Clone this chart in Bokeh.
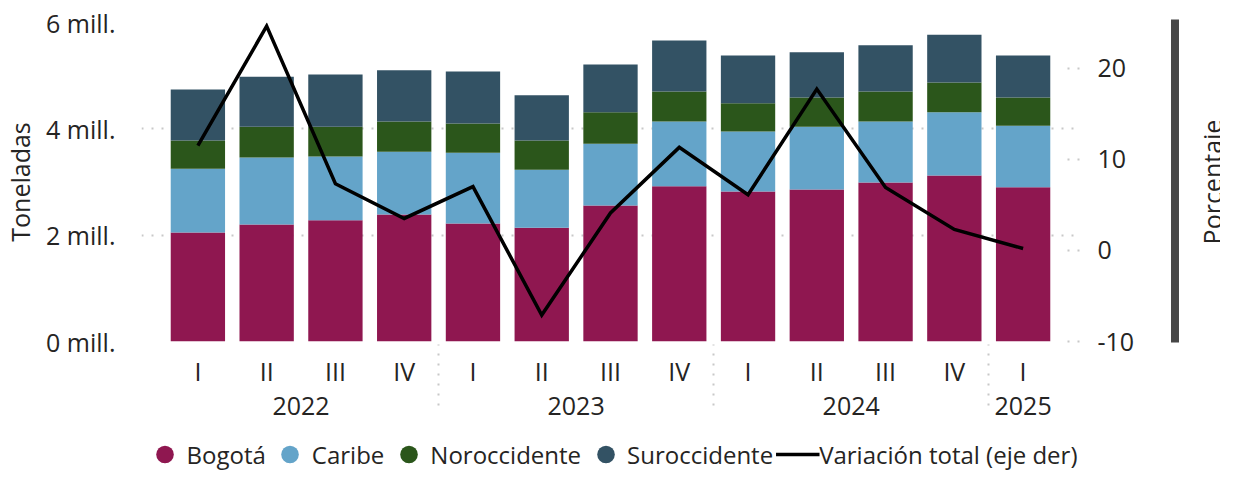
from bokeh.plotting import figure
from bokeh.models import (ColumnDataSource, FactorRange, Range1d, LinearAxis, FixedTicker,
                          CustomJSTickFormatter, Legend, LegendItem)
from bokeh.layouts import column
from bokeh.core.properties import value
from bokeh.embed import file_html
from bokeh.resources import INLINE

# ---------------- data (millones de toneladas / porcentaje) ----------------
anios = ["2022", "2022", "2022", "2022", "2023", "2023", "2023", "2023",
         "2024", "2024", "2024", "2024", "2025"]
trimestres = ["I", "II", "III", "IV", "I", "II", "III", "IV", "I", "II", "III", "IV", "I"]
bogota = [2.05, 2.20, 2.28, 2.39, 2.22, 2.14, 2.56, 2.92, 2.82, 2.86, 2.99, 3.12, 2.90]
caribe = [1.20, 1.26, 1.20, 1.18, 1.33, 1.09, 1.16, 1.22, 1.13, 1.18, 1.15, 1.19, 1.16]
noroccidente = [0.53, 0.58, 0.56, 0.57, 0.55, 0.55, 0.59, 0.56, 0.53, 0.55, 0.56, 0.56, 0.53]
suroccidente = [0.96, 0.94, 0.98, 0.96, 0.98, 0.85, 0.90, 0.96, 0.90, 0.85, 0.87, 0.90, 0.79]
variacion = [11.5, 24.6, 7.3, 3.5, 7.0, -7.1, 4.1, 11.3, 6.1, 17.7, 6.9, 2.3, 0.2]

series = ["bogota", "caribe", "noroccidente", "suroccidente"]
nombres = ["Bogotá", "Caribe", "Noroccidente", "Suroccidente"]
colores = ["#8F1750", "#64A4C9", "#2B561B", "#335264"]
left_ticks = [0, 2, 4, 6]
right_ticks = [-10, 0, 10, 20]

FONT = "Open Sans"
TXT = "#252423"
FS = "25px"
GRID = "#C8C8C8"
SLIDER = "#464646"

# ---------------- layout (pixels) ----------------
W = 1220
H_MAIN, H_LEG = 432, 44
BL, BR, BT, BB = 136, 141, 22, 91
FW, FH = W - BL - BR, H_MAIN - BT - BB
PAD = 0.32
N = len(anios)
PXU = FW / (N + 2 * PAD)          # pixels per category


def page_x_to_syn(px):
    return -PAD + (px - 8 - BL) / PXU


factors = list(zip(anios, trimestres))
source = ColumnDataSource(dict(x=factors, bogota=bogota, caribe=caribe,
                               noroccidente=noroccidente, suroccidente=suroccidente,
                               variacion=variacion))

p = figure(x_range=FactorRange(factors=factors, factor_padding=0, group_padding=0,
                               subgroup_padding=0, range_padding=PAD,
                               range_padding_units="absolute"),
           y_range=Range1d(0, 6), width=W, height=H_MAIN,
           output_backend="svg", toolbar_location=None,
           min_border_left=BL, min_border_right=BR, min_border_top=BT, min_border_bottom=BB)
p.outline_line_color = None
p.extra_y_ranges = {"pct": Range1d(-10, 25), "sy": Range1d(0, FH)}

p.vbar_stack(series, x="x", width=0.79, source=source, fill_color=colores,
             line_color=None)
p.line(x="x", y="variacion", source=source, y_range_name="pct",
       line_color="black", line_width=3.5, line_join="miter")

# ---------------- axes ----------------
p.xgrid.visible = False
p.ygrid.grid_line_color = GRID
p.ygrid.grid_line_dash = "2 8"
p.ygrid.grid_line_width = 2

ya = p.yaxis[0]
ya.ticker = FixedTicker(ticks=left_ticks)
ya.formatter = CustomJSTickFormatter(code="return tick + ' mill.'")
ya.axis_label = "Toneladas"
ya.axis_label_standoff = 6
ya.major_label_standoff = 20
ya.axis_line_color = None
ya.major_tick_line_color = None
ya.minor_tick_line_color = None

ra = LinearAxis(y_range_name="pct", ticker=FixedTicker(ticks=right_ticks),
                formatter=CustomJSTickFormatter(code="return tick.toString()"))
ra.major_label_standoff = 18
ra.axis_line_color = None
ra.major_tick_out = 0
ra.major_tick_in = 14
ra.major_tick_line_color = GRID
ra.major_tick_line_dash = "2 8"
ra.major_tick_line_width = 2
ra.minor_tick_line_color = None
p.add_layout(ra, "right")

xa = p.xaxis[0]
xa.axis_line_color = None
xa.major_tick_line_color = None
xa.minor_tick_line_color = None
xa.major_label_standoff = 6
xa.group_text_font = FONT
xa.group_text_font_size = FS
xa.group_text_color = TXT
xa.group_text_font_style = "normal"
xa.separator_line_color = GRID
xa.separator_line_dash = "2 8"
xa.separator_line_width = 2

for ax in (xa, ya, ra):
    ax.major_label_text_font = FONT
    ax.major_label_text_font_size = FS
    ax.major_label_text_color = TXT
    ax.axis_label_text_font = FONT
    ax.axis_label_text_font_size = FS
    ax.axis_label_text_color = TXT
    ax.axis_label_text_font_style = "normal"

# ---------------- right-hand slider decoration and title ----------------
sx_slider = page_x_to_syn(1183)
sy_top, sy_bot = FH + 3, -1
seg = p.segment(x0=[sx_slider], y0=[sy_bot], x1=[sx_slider], y1=[sy_top],
                y_range_name="sy", line_color=SLIDER, line_width=8)
knobs = p.scatter(x=[sx_slider, sx_slider], y=[sy_top, sy_bot],
                  y_range_name="sy", marker="circle", size=28, fill_color="white",
                  line_color=SLIDER, line_width=4)
titulo = p.text(x=[page_x_to_syn(1220)], y=[FH / 2], text=["Porcentaje"],
                y_range_name="sy", angle=90, angle_units="deg", text_align="center",
                text_baseline="middle", text_font=value(FONT), text_font_size=FS,
                text_color=TXT)
for r in (seg, knobs, titulo):
    r.level = "overlay"

# ---------------- legend strip (own small figure below) ----------------
pl = figure(width=W, height=H_LEG, x_range=Range1d(0, 1), y_range=Range1d(0, 1),
            output_backend="svg", toolbar_location=None,
            x_axis_location=None, y_axis_location=None,
            min_border_left=0, min_border_right=0, min_border_top=0, min_border_bottom=0)
pl.outline_line_color = None
pl.grid.visible = False
dummies = [pl.scatter(x=[-10], y=[-10], marker="circle", size=10,
                      fill_color=c, line_color=None) for c in colores]
dline = pl.line(x=[-10, -9], y=[-10, -10], line_color="black", line_width=3.5)
items = [LegendItem(label=n, renderers=[d]) for n, d in zip(nombres, dummies)]
items.append(LegendItem(label="Variación total (eje der)", renderers=[dline]))
leg = Legend(items=items, orientation="horizontal", location="center",
             glyph_width=44, glyph_height=44, label_standoff=0, spacing=2,
             padding=0, margin=0, border_line_color=None, background_fill_alpha=0,
             label_text_font=FONT, label_text_font_size="24px", label_text_color=TXT)
pl.add_layout(leg, "center")

open("out.html", "w").write(file_html(column(p, pl), INLINE))
